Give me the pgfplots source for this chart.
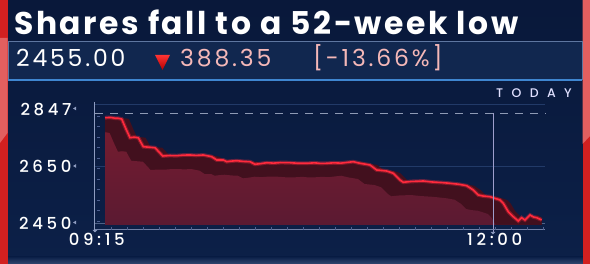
\documentclass[border=0pt]{standalone}
\usepackage{fontspec}
\setmainfont{Poppins}
\newfontfamily\titlefont{Poppins Bold}[LetterSpace=8]
\newfontfamily\rowfont{Poppins}[LetterSpace=12]
\newfontfamily\medfont{Poppins Medium}[LetterSpace=22]
\newfontfamily\todayfont{Poppins Medium}[LetterSpace=67]
\usepackage{pgfplots}
\pgfplotsset{compat=1.18}
\usepackage{pgfplotstable}
\definecolor{bgtop}{HTML}{09183A}
\definecolor{bgbot}{HTML}{0C2048}
\definecolor{boxbg}{HTML}{11274F}
\definecolor{boxtop}{HTML}{5E76A0}
\definecolor{boxbot}{HTML}{3F86D0}
\definecolor{stripred}{HTML}{D22020}
\definecolor{striplight}{HTML}{E25F5F}
\definecolor{pinktxt}{HTML}{F5B8B8}
\definecolor{darkband}{HTML}{42101E}
\definecolor{lighttop}{HTML}{741C30}
\definecolor{lightbot}{HTML}{581A32}
\definecolor{linered}{HTML}{FF2A3D}
\definecolor{gridc}{HTML}{223A68}
\definecolor{dashc}{HTML}{8E9AB4}
\definecolor{axisc}{HTML}{8E9CC0}
\definecolor{minorc}{HTML}{4E6090}

\pgfplotstableread{
m v
4.15 2818.6
6.5 2819.5
8.5 2816.5
9.66 2816.5
11.07 2814.0
12.8 2780
14.51 2748.8
16.2 2750.5
17.95 2748.8
20.02 2717.4
22.5 2715.5
24.88 2713.9
28.07 2684.9
31.0 2686.5
33.87 2686.0
36.5 2688
39.39 2688.4
42.0 2687
44.9 2688.4
48.38 2682.5
50.46 2670.9
53.19 2670.9
54.6 2665
56.5 2667
58.75 2668.5
61.5 2666
64.26 2665
66.33 2655.9
68.5 2658
71.19 2661.5
74 2660
77 2662
80.85 2661.5
84 2659.5
87.77 2659.4
91 2661
93.5 2659
96.06 2659.4
99 2661
102 2660
104.5 2662.5
107.1 2665
109.87 2659.4
114.01 2653.5
116.79 2636
120.94 2632.5
123.67 2624.5
126.45 2601.1
127.82 2593.1
131 2596
136.11 2597.6
140 2594
144 2592
147.18 2589.6
151 2586
154.1 2581.2
156.84 2566.2
158.91 2548.8
161 2545
163.76 2542.8
167.91 2531.3
169.28 2519.8
171.35 2490.5
173.42 2473
175.5 2458
176.9 2469.5
178.27 2461.5
180.35 2479
181.8 2472
183.13 2469.5
185.2 2461.5
}\pricedata

\begin{document}
\begin{tikzpicture}
\begin{scope}[x=1pt,y=1pt]
  % background
  \shade[top color=bgtop, bottom color=bgbot] (0,0) rectangle (590,264);
  \shade[top color=bgbot, bottom color=boxtop!45!bgbot] (7,0) rectangle (583,7);
  % side strips
  \fill[stripred] (0,0) rectangle (7.5,264);
  \fill[striplight] (0,226) -- (7.5,226) -- (7.5,131) -- (0,121) -- cycle;
  \fill[stripred] (582.5,0) rectangle (590,264);
  \fill[striplight] (582.5,264) -- (590,264) -- (590,128) -- (582.5,120) -- cycle;
  % title
  \node[anchor=base west, inner sep=0pt, text=white,
        font=\fontsize{31.4}{34}\titlefont] at (14,229) {Shares fall to a 52-week low};
  % price box
  \fill[boxbg] (8,223) rectangle (582,184);
  \draw[boxtop, line width=0.9pt] (8,184) -- (8,223) -- (582,223) -- (582,184);
  \draw[boxbot, line width=1.1pt] (8,184) -- (582,184);
  \node[anchor=base west, inner sep=0pt, text=white,
        font=\fontsize{23.5}{26}\rowfont] at (16,197) {2455.00};
  \shade[top color=red!80!white, bottom color=red!70!black] (155,209) -- (170,209) -- (162.5,194) -- cycle;
  \node[anchor=base west, inner sep=0pt, text=pinktxt,
        font=\fontsize{23.5}{26}\rowfont] at (180,197) {388.35};
  \node[anchor=base west, inner sep=0pt, text=pinktxt,
        font=\fontsize{23.5}{26}\rowfont] at (313,197) {[-13.66\%]};
  % TODAY
  \node[anchor=base west, inner sep=0pt, text=white!88!blue,
        font=\fontsize{12.5}{14}\todayfont] at (496,166.5) {TODAY};
\end{scope}

\begin{axis}[
  at={(95pt,39pt)}, anchor=south west,
  scale only axis, width=465pt, height=123pt,
  xmin=0, xmax=192.8, ymin=2444, ymax=2873.4,
  axis line style={draw=none},
  tick style={draw=none},
  xtick={0,165}, xticklabels={09:15,12:00},
  ytick={2450,2650,2847}, yticklabels={2450,2650,2847},
  ticklabel style={font=\fontsize{16.5}{18}\medfont, text=white, inner sep=0pt},
  yticklabel style={anchor=east, xshift=-23.4pt},
  xticklabel style={anchor=north, yshift=-8pt, xshift=1.8pt},
]
  % grid
  \addplot[gridc, line width=0.8pt, forget plot] coordinates {(0,2650) (186.6,2650)};
  \addplot[gridc, line width=0.8pt, forget plot] coordinates {(0,2864.7) (186.6,2864.7)};
  \addplot[gridc!80!white, line width=0.8pt, forget plot] coordinates {(0,2450) (186.6,2450)};
  % extrusion / area
  \addplot[draw=none, fill=darkband, forget plot]
    table[x expr={min(\thisrow{m}+3,185.2)}, y=v] {\pricedata} \closedcycle;
  \addplot[draw=none, fill=darkband, forget plot]
    table[x=m, y=v] {\pricedata} \closedcycle;
  \addplot[draw=none, top color=lighttop, bottom color=lightbot, forget plot]
    table[x expr={max(\thisrow{m}-5,4.15)}, y expr={\thisrow{v}-49}] {\pricedata} \closedcycle;
  % price line with glow
  \addplot[linered, opacity=0.35, line width=3.8pt, forget plot] table[x=m, y=v] {\pricedata};
  \addplot[linered, line width=1.6pt, forget plot] table[x=m, y=v] {\pricedata};
  % previous close
  \addplot[dashc, line width=1.2pt, dash pattern=on 8pt off 7pt, forget plot]
    coordinates {(0,2832) (186.6,2832)};
\end{axis}

\begin{scope}[x=1pt,y=1pt]
  % 12:00 marker line
  \draw[white!70!blue!60!gray, line width=0.8pt] (493,151) -- (493,32);
  % y axis line and minor ticks
  \draw[axisc, line width=0.9pt] (94.5,162) -- (94.5,32);
  \foreach \yy in {148,137.5,127,116.5,106,95.5,85,74.5,64,53.5,43} {
    \draw[minorc, line width=0.6pt] (96.5,\yy) -- (100,\yy);
  }
  % x axis line and minor ticks
  \draw[minorc!80!white, line width=1pt] (95,34) -- (545,34);
  \foreach \xx in {111,127,...,543} {
    \draw[minorc, line width=0.6pt] (\xx,34) -- (\xx,37);
  }
  % tick pointers
  \fill[axisc] (95,31.5) -- (92.5,34) -- (97.5,34) -- cycle;
  \fill[axisc] (493,29.5) -- (490.5,32) -- (495.5,32) -- cycle;
  \foreach \yy in {155.5,98,41.5} {
    \fill[axisc] (73,\yy) -- (76,\yy+1.8) -- (76,\yy-1.8) -- cycle;
  }
\end{scope}
\pgfresetboundingbox
\path (0pt,0pt) rectangle (590pt,264pt);
\end{tikzpicture}
\end{document}
